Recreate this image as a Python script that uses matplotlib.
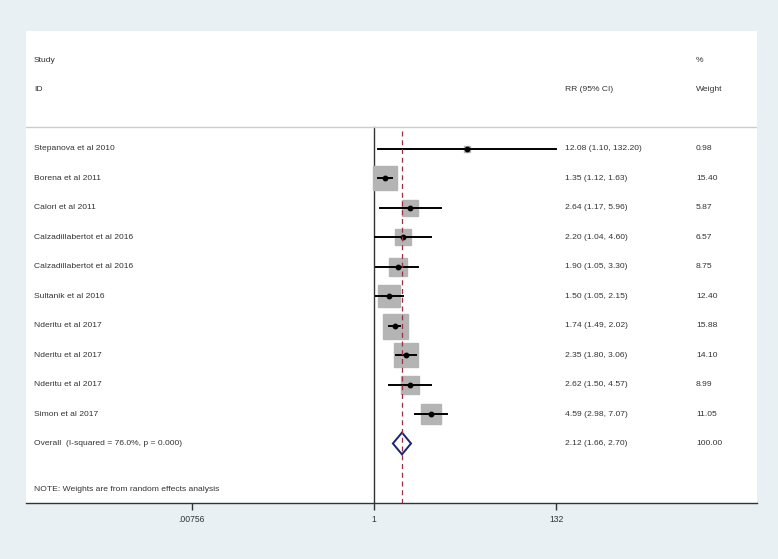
import numpy as np
import matplotlib
matplotlib.use("Agg")
from matplotlib import pyplot as plt
from matplotlib.patches import Polygon
from matplotlib.ticker import NullLocator

plt.rcParams['font.family'] = ['Liberation Sans', 'DejaVu Sans']

# data
studies = ["Stepanova et al 2010", "Borena et al 2011", "Calori et al 2011",
           "Calzadillabertot et al 2016", "Calzadillabertot et al 2016",
           "Sultanik et al 2016", "Nderitu et al 2017", "Nderitu et al 2017",
           "Nderitu et al 2017", "Simon et al 2017"]
rr = [12.08, 1.35, 2.64, 2.20, 1.90, 1.50, 1.74, 2.35, 2.62, 4.59]
lo = [1.10, 1.12, 1.17, 1.04, 1.05, 1.05, 1.49, 1.80, 1.50, 2.98]
hi = [132.20, 1.63, 5.96, 4.60, 3.30, 2.15, 2.02, 3.06, 4.57, 7.07]
weights = [0.98, 15.40, 5.87, 6.57, 8.75, 12.40, 15.88, 14.10, 8.99, 11.05]
overall = (2.12, 1.66, 2.70)
overall_label = "Overall  (I-squared = 76.0%, p = 0.000)"
tick_vals = [0.00756, 1, 132]
tick_labels = [".00756", "1", "132"]

BG = "#e8f0f3"
TXT = "#333333"
SQ = "#b4b4b4"
NAVY = "#1c2470"
RED = "#9a3048"

W, H = 778, 559
fig = plt.figure(figsize=(W / 100, H / 100), dpi=100, facecolor=BG)
ax = fig.add_axes([26 / W, (H - 503) / H, 731 / W, 472 / H])
ax.set_facecolor("white")

ax.set_xscale("log")
ax.set_xlim(np.exp(-9.33), np.exp(10.27))
ax.set_ylim(12.02, -4.0)

for s in ["top", "left", "right"]:
    ax.spines[s].set_visible(False)
ax.spines["bottom"].set_color(TXT)
ax.spines["bottom"].set_linewidth(1.0)
ax.set_yticks([])
ax.set_xticks(tick_vals)
ax.set_xticklabels(tick_labels)
ax.xaxis.set_minor_locator(NullLocator())
ax.tick_params(axis="x", length=5, width=1, color=TXT, labelsize=6.2,
               labelcolor=TXT, pad=4)

tr = ax.get_yaxis_transform()
fs = 6.1

# headers
ax.text(0.011, -3.0, "Study", transform=tr, fontsize=fs, color=TXT, va="center")
ax.text(0.011, -2.0, "ID", transform=tr, fontsize=fs, color=TXT, va="center")
ax.text(0.737, -2.0, "RR (95% CI)", transform=tr, fontsize=fs, color=TXT, va="center")
ax.text(0.9166, -3.0, "%", transform=tr, fontsize=fs, color=TXT, va="center")
ax.text(0.9166, -2.0, "Weight", transform=tr, fontsize=fs, color=TXT, va="center")
ax.axhline(-0.75, color="#cccccc", lw=1.0)

# reference lines
ax.plot([1, 1], [-0.75, 12.02], color=TXT, lw=1.0, zorder=1)
ax.plot([overall[0], overall[0]], [-0.62, 12.02], color=RED, lw=0.9,
        ls=(0, (4, 3)), zorder=5)

rows = np.arange(len(studies))
for i in rows:
    side = 18 * np.sqrt(weights[i] / 15.88)
    ax.plot(rr[i], i, marker="s", ms=side, color=SQ, mec=SQ, zorder=2)
    ax.plot([lo[i], hi[i]], [i, i], color="black", lw=1.4, zorder=3)
    ax.plot(rr[i], i, marker="o", ms=3.2, color="black", zorder=4)
    ax.text(0.011, i, studies[i], transform=tr, fontsize=fs, color=TXT, va="center")
    ax.text(0.737, i, "%.2f (%.2f, %.2f)" % (rr[i], lo[i], hi[i]), transform=tr,
            fontsize=fs, color=TXT, va="center")
    ax.text(0.9166, i, "%.2f" % weights[i], transform=tr, fontsize=fs,
            color=TXT, va="center")

# overall diamond
yo = len(studies)
hd = 0.37
est, olo, ohi = overall
ax.add_patch(Polygon([[olo, yo], [est, yo - hd], [ohi, yo], [est, yo + hd]],
                     closed=True, facecolor="white", edgecolor=NAVY, lw=1.4,
                     zorder=4))
ax.text(0.011, yo, overall_label, transform=tr, fontsize=fs, color=TXT, va="center")
ax.text(0.737, yo, "%.2f (%.2f, %.2f)" % overall, transform=tr, fontsize=fs,
        color=TXT, va="center")
ax.text(0.9166, yo, "100.00", transform=tr, fontsize=fs, color=TXT, va="center")

ax.text(0.011, 11.55, "NOTE: Weights are from random effects analysis",
        transform=tr, fontsize=fs, color=TXT, va="center")

fig.savefig("out.png", dpi=100, facecolor=BG)
